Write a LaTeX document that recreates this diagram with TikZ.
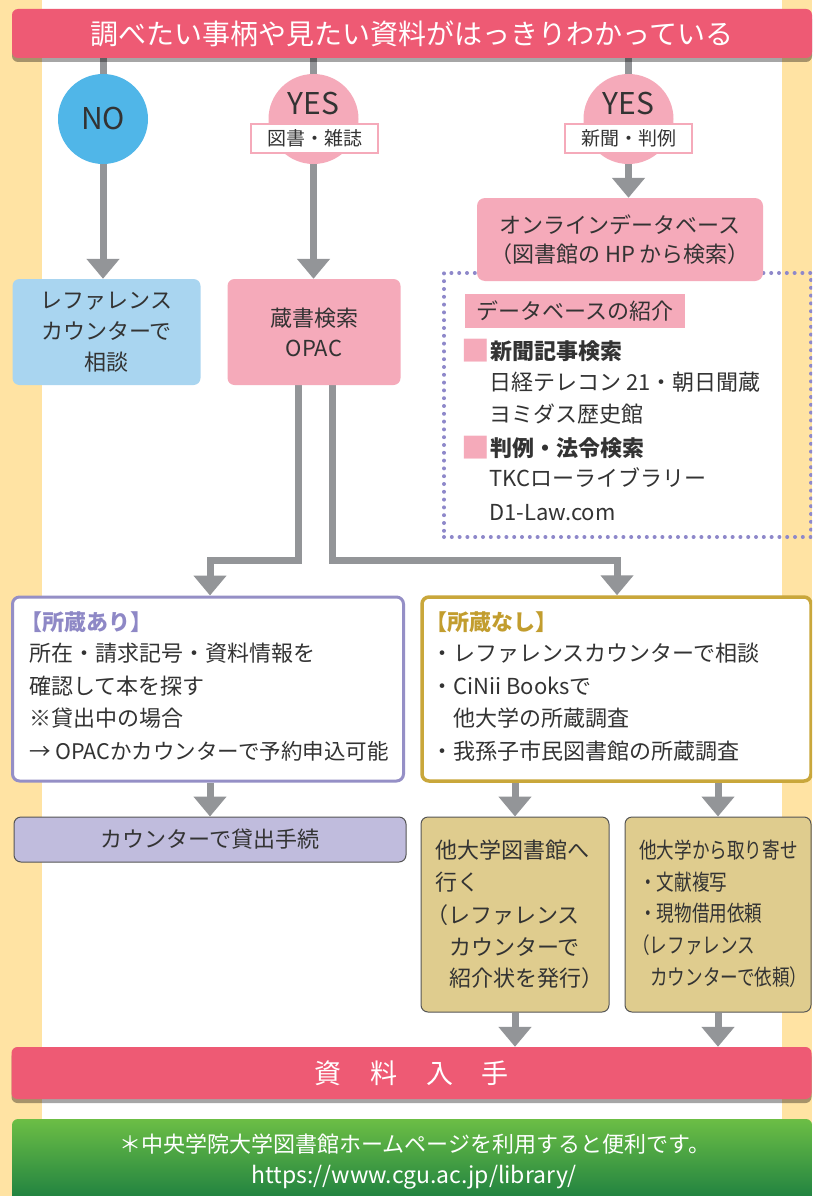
\documentclass[tikz,border=0pt]{standalone}
\usepackage{fontspec}
\usepackage{graphicx}
\setmainfont{Noto Sans CJK JP}
\usetikzlibrary{arrows.meta,shadows,calc}
\definecolor{bgcream}{HTML}{FFE3A3}
\definecolor{bannerpink}{HTML}{EE5A74}
\definecolor{lpink}{HTML}{F5AABA}
\definecolor{nblue}{HTML}{50B6E8}
\definecolor{lblue}{HTML}{A9D5F0}
\definecolor{arrgray}{HTML}{939598}
\definecolor{purpB}{HTML}{958FC6}
\definecolor{purpT}{HTML}{8E88C6}
\definecolor{purpF}{HTML}{C0BCDD}
\definecolor{goldB}{HTML}{C9A73B}
\definecolor{goldT}{HTML}{C29D2E}
\definecolor{tanF}{HTML}{DFCC8E}
\definecolor{dotp}{HTML}{8E88CA}
\definecolor{txt}{HTML}{333333}
\definecolor{edge}{HTML}{555555}
\definecolor{gtop}{HTML}{6CBE45}
\definecolor{gbot}{HTML}{167A40}
\pgfdeclarelayer{bg}
\pgfdeclarelayer{conn}
\pgfsetlayers{bg,conn,main}
\newcommand{\pinksq}{\textcolor{lpink}{\raisebox{-2.5pt}{\scalebox{1.3}{■}}}}
\begin{document}
\begin{tikzpicture}[x=1pt,y=-1pt,
  stem/.style={draw=arrgray, line width=7pt},
  arr/.style={stem, -{Triangle[width=32pt,length=20pt]}},
  banner/.style={fill=bannerpink, rounded corners=6pt, text=white, inner sep=0pt,
    drop shadow={shadow xshift=0pt, shadow yshift=-4pt, opacity=0.35, fill=black}},
  box/.style={rounded corners=7pt, inner sep=0pt, text=txt},
  cbox/.style={box, align=center, font=\fontsize{22}{31}\selectfont},
  tl/.style={anchor=base west, inner sep=0pt, text=txt, font=\fontsize{22}{26}\selectfont},
  lab/.style={draw=lpink, line width=2.5pt, fill=white, minimum width=127pt, minimum height=29pt,
    inner sep=0pt, text=txt, font=\fontsize{19}{20}\selectfont},
  yn/.style={circle, minimum size=90pt, inner sep=0pt},
  big/.style={text=txt, inner sep=0pt, font=\fontsize{30}{30}\selectfont},
  dotbox/.style={draw=dotp, line width=4pt, line cap=round, dash pattern=on 0pt off 7.8pt,
    minimum width=367pt, minimum height=264pt, inner sep=0pt}
]
\useasboundingbox (0,0) rectangle (812,1196);
\clip (0,0) rectangle (812,1196);
\begin{pgfonlayer}{bg}
  \fill[bgcream] (0,0) rectangle (812,1196);
  \fill[white] (42,0) rectangle (782,1119);
\end{pgfonlayer}

% top banner
\node[banner, minimum width=800pt, minimum height=49pt, font=\fontsize{28}{28}\selectfont]
  (top) at (412,33.5) {調べたい事柄や見たい資料がはっきりわかっている};

% circles
\node[yn, fill=nblue, big] (no) at (103,119) {NO};
\node[yn, fill=lpink] (yes1) at (313.5,119) {};
\node[big] (yes1t) at (313.5,104) {YES};
\node[lab] (yes1l) at (314.5,138.5) {図書・雑誌};
\node[yn, fill=lpink] (yes2) at (628.5,119) {};
\node[big] (yes2t) at (628.5,104) {YES};
\node[lab] (yes2l) at (628.5,138.5) {新聞・判例};

% second row
\node[cbox, fill=lblue, minimum width=188pt, minimum height=106pt] (ref) at (106.5,332)
  {レファレンス\\カウンターで\\相談};
\node[cbox, fill=lpink, minimum width=173pt, minimum height=106pt, font=\fontsize{22}{30}\selectfont] (opac) at (314,332)
  {蔵書検索\\OPAC};

% database area
\node[dotbox] (dbx) at (627.5,405) {};
\node[cbox, fill=lpink, rounded corners=8pt, minimum width=286pt, minimum height=83pt,
  font=\fontsize{22}{29}\selectfont] (online) at (620,239.5)
  {オンラインデータベース\\（図書館の HP から検索）};
\node[fill=lpink, inner sep=0pt, minimum width=220pt, minimum height=34pt, text=txt,
  font=\fontsize{22}{26}\selectfont] (dbh) at (575,311) {データベースの紹介};
\node[tl] (db1) at (461.5,359.4) {\pinksq\textbf{新聞記事検索}};
\node[tl] (db2) at (489,390.4) {日経テレコン 21・朝日聞蔵};
\node[tl] (db3) at (489,422.4) {ヨミダス歴史館};
\node[tl] (db4) at (461.5,456.4) {\pinksq\textbf{判例・法令検索}};
\node[tl] (db5) at (489,486.4) {TKCローライブラリー};
\node[tl] (db6) at (489,520.4) {D1-Law.com};

% shozo ari
\node[box, draw=purpB, line width=3pt, fill=white, minimum width=391pt, minimum height=184pt] (ari) at (208,689) {};
\node[tl] (a0) at (20,630.4) {\textcolor{purpT}{\textbf{【所蔵あり】}}};
\node[tl] (a1) at (29,661.4) {所在・請求記号・資料情報を};
\node[tl] (a2) at (29,694.4) {確認して本を探す};
\node[tl] (a3) at (29,726.4) {※貸出中の場合};
\node[tl, font=\fontsize{21.5}{26}\selectfont] (a4) at (29,759.4) {→ OPACかカウンターで予約申込可能};

\node[box, draw=edge, line width=1pt, fill=purpF, minimum width=392pt, minimum height=45pt,
  font=\fontsize{22}{26}\selectfont] (kashi) at (210,839.5) {カウンターで貸出手続};

% shozo nashi
\node[box, draw=goldB, line width=3.5pt, fill=white, minimum width=389pt, minimum height=184pt] (nashi) at (616.5,689) {};
\node[tl] (n0) at (425,630.4) {\textcolor{goldT}{\textbf{【所蔵なし】}}};
\node[tl] (n1) at (431,661.4) {・レファレンスカウンターで相談};
\node[tl] (n2) at (431,694.4) {・CiNii Booksで};
\node[tl] (n3) at (453,726.4) {他大学の所蔵調査};
\node[tl] (n4) at (431,759.4) {・我孫子市民図書館の所蔵調査};

\node[box, draw=edge, line width=1pt, fill=tanF, minimum width=188pt, minimum height=195pt] (boxA) at (515,914.5) {};
\node[tl] (A1) at (435,858.4) {他大学図書館へ};
\node[tl] (A2) at (435,890.4) {行く};
\node[tl] (A3) at (426,923.4) {（レファレンス};
\node[tl] (A4) at (449,955.4) {カウンターで};
\node[tl] (A5) at (449,986.4) {紹介状を発行）};

\node[box, draw=edge, line width=1pt, fill=tanF, minimum width=186pt, minimum height=195pt] (boxB) at (718,914.5) {};
\node[tl] (B1) at (639,858.4) {\scalebox{0.8}[1]{他大学から取り寄せ}};
\node[tl] (B2) at (639,890.4) {\scalebox{0.8}[1]{・文献複写}};
\node[tl] (B3) at (639,921.4) {\scalebox{0.8}[1]{・現物借用依頼}};
\node[tl] (B4) at (632,953.4) {\scalebox{0.8}[1]{（レファレンス}};
\node[tl] (B5) at (650,985.4) {\scalebox{0.8}[1]{カウンターで依頼）}};

% bottom banner
\node[banner, minimum width=800pt, minimum height=52pt, font=\fontsize{27}{27}\selectfont]
  (get) at (411.5,1073) {資\hspace{29pt}料\hspace{29pt}入\hspace{29pt}手};

% footer
\node[rounded corners=6pt, top color=gtop, bottom color=gbot, minimum width=800pt, minimum height=90pt, inner sep=0pt]
  (foot) at (412,1164) {};
\node[text=white, inner sep=0pt, font=\fontsize{22}{26}\selectfont] (f1) at (415,1144)
  {＊中央学院大学図書館ホームページを利用すると便利です。};
\node[text=white, inner sep=0pt, font=\fontsize{23}{26}\selectfont] (f2) at (414,1177)
  {https://www.cgu.ac.jp/library/};

% connectors
\begin{pgfonlayer}{conn}
  \draw[stem] (top.south -| no.north) -- (no.north);
  \draw[arr] (no.south) -- (no.south |- ref.north);
  \draw[stem] (top.south -| yes1.north) -- (yes1.north);
  \draw[arr] (yes1.south) -- (yes1.south |- opac.north);
  \draw[stem] (top.south -| yes2.north) -- (yes2.north);
  \draw[arr] (yes2.south) -- (yes2.south |- online.north);
  \coordinate (jl) at (298.5,560);
  \coordinate (jr) at (332.5,560);
  \coordinate (al) at (210,560);
  \coordinate (ar) at (617,560);
  \draw[arr] (opac.south -| jl) -- (jl) -- (al) -- (al |- ari.north);
  \draw[arr] (opac.south -| jr) -- (jr) -- (ar) -- (ar |- nashi.north);
  \draw[arr] (ari.south -| kashi.north) -- (kashi.north);
  \draw[arr] (nashi.south -| boxA.north) -- (boxA.north);
  \draw[arr] (nashi.south -| boxB.north) -- (boxB.north);
  \draw[arr] (boxA.south) -- (boxA.south |- get.north);
  \draw[arr] (boxB.south) -- (boxB.south |- get.north);
\end{pgfonlayer}
\end{tikzpicture}
\end{document}
